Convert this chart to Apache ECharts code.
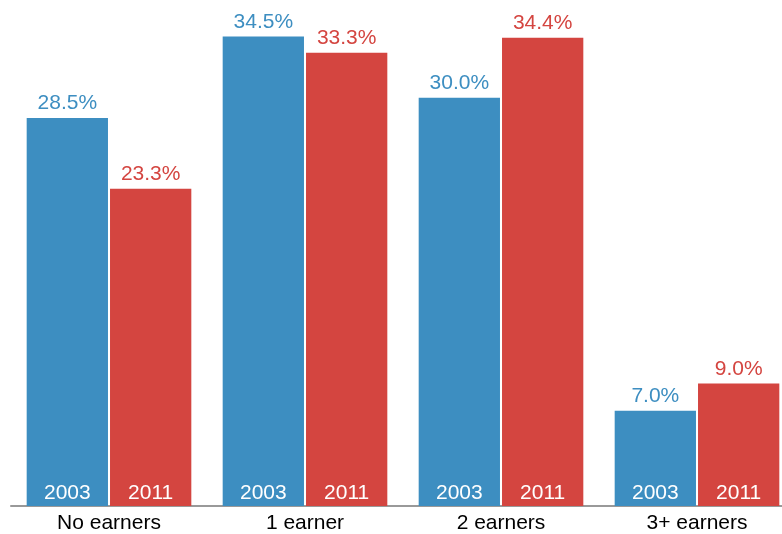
<!DOCTYPE html>
<html>
<head>
<meta charset="utf-8">
<script src="https://cdn.jsdelivr.net/npm/echarts@6/dist/echarts.min.js"></script>
<style>
  html, body { margin: 0; padding: 0; background: #fff; }
  #main { width: 782px; height: 534px; }
</style>
</head>
<body>
<div id="main"></div>
<script>
const categories = ['No earners', '1 earner', '2 earners', '3+ earners']
const years = ['2003', '2011']
const values2003 = [28.5, 34.5, 30.0, 7.0]
const values2011 = [23.3, 33.3, 34.4, 9.0]

const colors = ['#3d8ec1', '#d44540']
const font = "'Liberation Sans', Arial, sans-serif"

const chart = echarts.init(document.getElementById('main'))

const barCommon = {
  type: 'bar',
  barGap: '2.5%',
  barCategoryGap: '16%'
}

const valueSeries = [values2003, values2011].map((data, i) => ({
  ...barCommon,
  name: years[i],
  data: data,
  xAxisIndex: 0,
  itemStyle: { color: colors[i] },
  label: {
    show: true,
    position: 'top',
    distance: 4,
    color: colors[i],
    fontSize: 21,
    fontFamily: font,
    formatter: (p) => p.value.toFixed(1) + '%'
  }
}))

// transparent copies on a hidden axis, only to put the year inside each bar
const yearSeries = [values2003, values2011].map((data, i) => ({
  ...barCommon,
  name: years[i] + '-label',
  data: data,
  xAxisIndex: 1,
  itemStyle: { color: 'rgba(0,0,0,0)' },
  label: {
    show: true,
    position: 'insideBottom',
    distance: 2,
    color: '#fff',
    fontSize: 21,
    fontFamily: font,
    formatter: () => years[i]
  },
  silent: true
}))

chart.setOption({
  animation: false,
  grid: { left: 11, top: 16, right: -13, bottom: 28, outerBoundsMode: 'none' },
  xAxis: [
    {
      type: 'category',
      data: categories,
      axisLine: { lineStyle: { color: '#999', width: 2 } },
      axisTick: { show: false },
      axisLabel: { color: '#000', fontSize: 21, fontFamily: font, margin: 7 }
    },
    {
      type: 'category',
      data: categories,
      show: false
    }
  ],
  yAxis: {
    type: 'value',
    min: 0,
    max: 36,
    show: false
  },
  series: [...valueSeries, ...yearSeries]
})
</script>
</body>
</html>
